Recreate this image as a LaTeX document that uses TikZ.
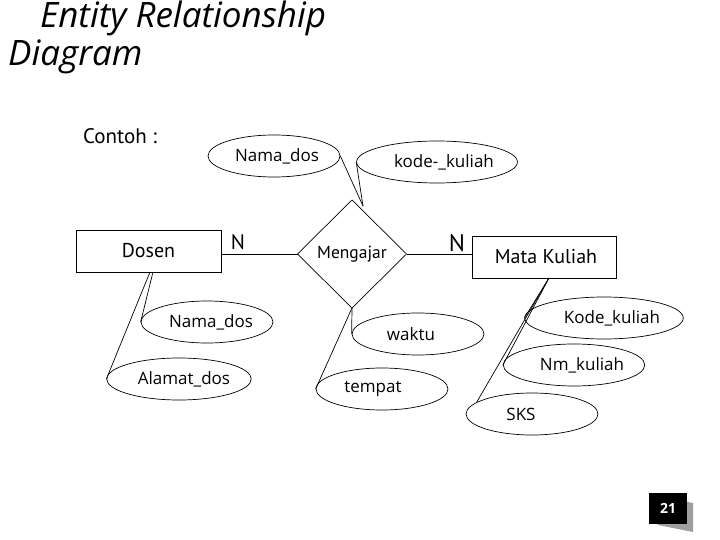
\documentclass[tikz,border=0pt]{standalone}
\usepackage{fontspec}
\setmainfont{Open Sans}
\newfontfamily\ptsans{PT Sans}
\usetikzlibrary{shapes.geometric,calc}
\tikzset{
  ent/.style={draw,rectangle,line width=0.8pt,inner sep=0pt,font=\ptsans\fontsize{20}{23}\selectfont},
  attr/.style={draw,ellipse,line width=0.7pt,inner sep=0pt,minimum width=132pt,minimum height=42pt,font=\fontsize{17}{20}\selectfont},
  rel/.style={draw,diamond,line width=0.7pt,inner sep=0pt,outer sep=0pt,minimum width=109pt,minimum height=108pt,font=\ptsans\fontsize{17.5}{20}\selectfont},
  conn/.style={line width=0.7pt},
  card/.style={inner sep=0pt,font=\ptsans\fontsize{21}{24}\selectfont}
}
\begin{document}
\begin{tikzpicture}[x=1pt,y=-1pt]
\useasboundingbox (0,0) rectangle (720,540);
% title
\node[anchor=base west,inner sep=0pt,font=\itshape\fontsize{35}{40}\selectfont] (t1) at (40,28) {Entity Relationship};
\node[anchor=base west,inner sep=0pt,font=\itshape\fontsize{35}{40}\selectfont] (t2) at (8,66) {Diagram};
\node[anchor=west,inner sep=0pt,font=\ptsans\fontsize{21}{24}\selectfont] (contoh) at (83,136) {Contoh :};
% entities
\node[ent,minimum width=145pt,minimum height=42pt] (dosen) at (148.5,251) {Dosen};
\node[ent,minimum width=144pt,minimum height=42pt] (mk) at (544,257) {\hspace*{4pt}Mata Kuliah};
\node[rel] (rel) at (352,254) {Mengajar};
% attributes
\node[attr] (nd1) at (274,156) {\hspace*{6pt}Nama\_dos};
\node[attr] (kk1) at (437,162) {\hspace*{14pt}kode-\_kuliah};
\node[attr] (nd2) at (207,322) {\hspace*{8pt}Nama\_dos};
\node[attr] (ad) at (179,379) {\hspace*{10pt}Alamat\_dos};
\node[attr] (wk) at (418,334) {\hspace*{-14pt}waktu};
\node[attr] (tp) at (382,389) {\hspace*{-18pt}tempat};
\node[attr] (kk2) at (604,318) {\hspace*{16pt}Kode\_kuliah};
\node[attr] (nm) at (574,365) {\hspace*{16pt}Nm\_kuliah};
\node[attr] (sks) at (532,414) {\hspace*{-22pt}SKS};
% cardinalities
\node[card] (n1) at (238,242) {N};
\node[card,font=\ptsans\fontsize{24}{27}\selectfont] (n2) at (457,243) {N};
% connectors
\coordinate (ctop) at (363,206);
\coordinate (dA) at (153,272);
\coordinate (dB) at (150,272);
\coordinate (mA) at (549,278);
\draw[conn] (rel.west) -- (rel.west -| dosen.east);
\draw[conn] (rel.east) -- (rel.east -| mk.west);
\draw[conn] (nd1.east) -- (ctop);
\draw[conn] (kk1.west) -- (ctop);
\draw[conn] (dA) -- (nd2.west);
\draw[conn] (dB) -- (ad.west);
\draw[conn] (rel.south) -- (wk.west);
\draw[conn] (rel.south) -- (tp.west);
\draw[conn] (mA) -- (kk2.west);
\draw[conn] (mA) -- (nm.west);
\draw[conn] (mA) -- (sks.168);
% page number
\fill[gray!75] (655,495) -- (693,503) -- (693,532) -- (658,525) -- cycle;
\node[fill=black,minimum width=38pt,minimum height=31pt,inner sep=0pt,text=white,font=\bfseries\fontsize{14}{16}\selectfont] (pg) at (668,508.5) {21};
\end{tikzpicture}
\end{document}
